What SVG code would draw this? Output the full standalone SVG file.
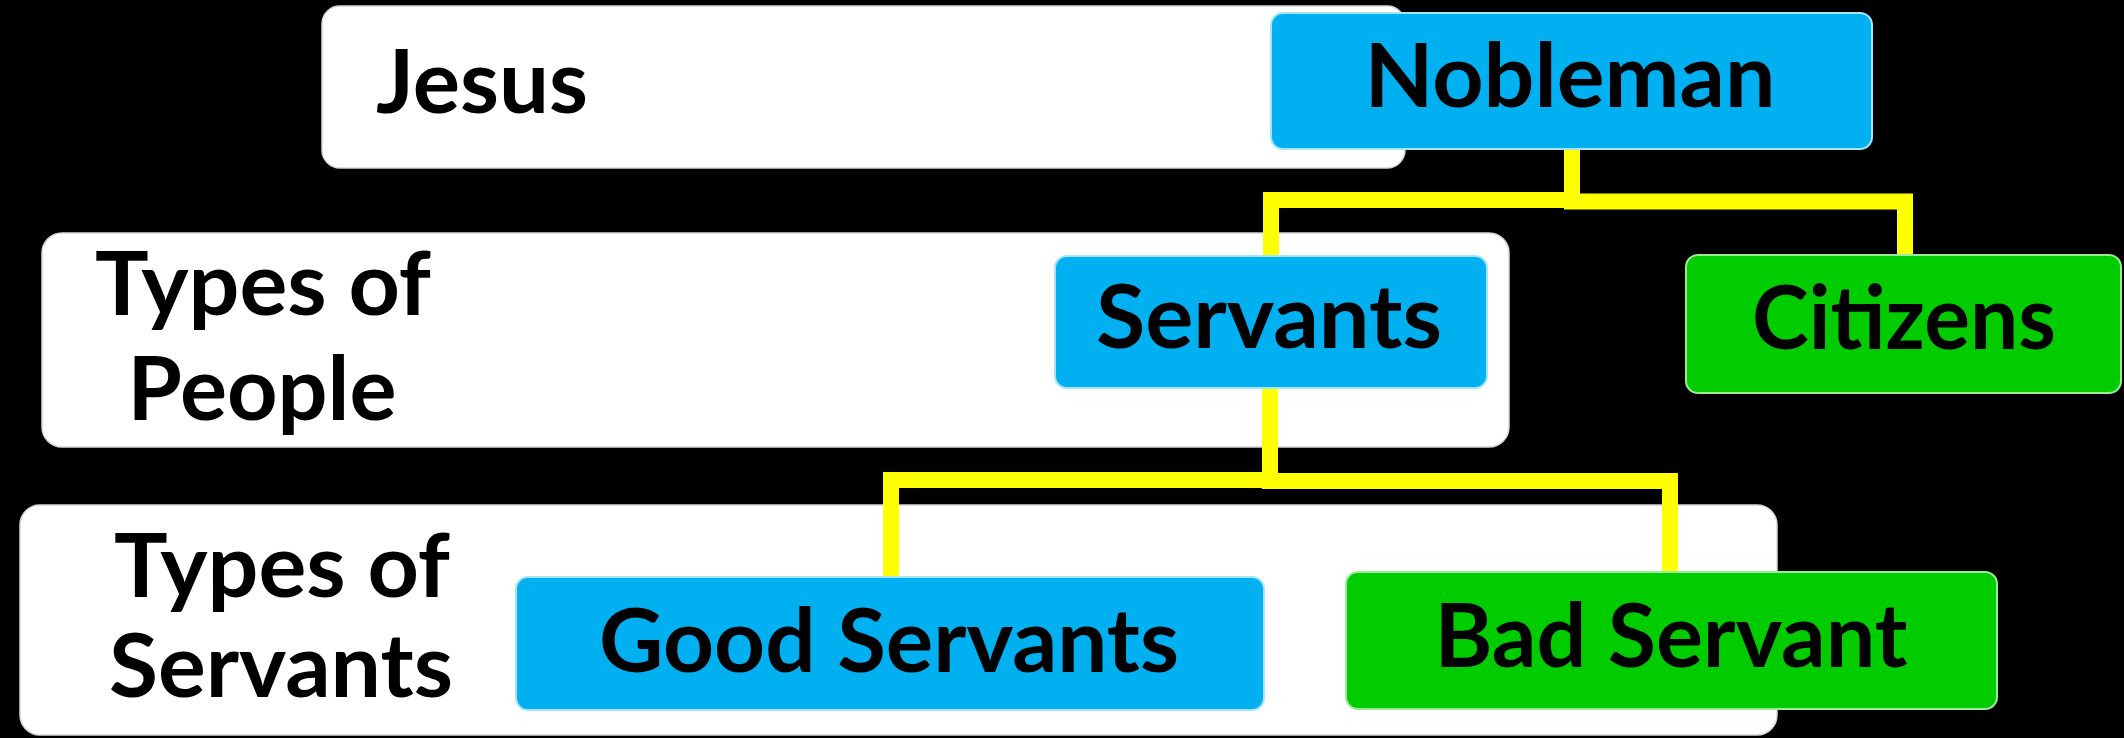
<svg xmlns="http://www.w3.org/2000/svg" width="2124" height="738" viewBox="0 0 2124 738">
<style>
.band{fill:#FFFFFF;stroke:#D8D8D8;stroke-width:1.5}
.blue{fill:#00B0F0;stroke:#A8E4F8;stroke-width:2}
.green{fill:#00CC00;stroke:#9CEB9C;stroke-width:2}
.lbl{font-family:Lato,"Open Sans","Liberation Sans",sans-serif;font-weight:700;font-size:88px;fill:#000000;text-anchor:middle}
.conn{fill:none;stroke:#FFFF00;stroke-width:16;stroke-linejoin:miter;stroke-linecap:butt}
</style>
<rect x="0" y="0" width="2124" height="738" fill="#000000"/>
<g id="band-jesus">
<rect class="band" x="322" y="6" width="1083" height="162" rx="18"/>
<text class="lbl" x="482" y="113" textLength="212" lengthAdjust="spacingAndGlyphs">Jesus</text>
</g>
<g id="band-people">
<rect class="band" x="42" y="233" width="1467" height="214" rx="20"/>
<text class="lbl" x="263" y="315" textLength="336" lengthAdjust="spacingAndGlyphs">Types of</text>
<text class="lbl" x="262" y="420" textLength="269" lengthAdjust="spacingAndGlyphs">People</text>
</g>
<g id="band-servants">
<rect class="band" x="20" y="505" width="1757" height="230" rx="20"/>
<text class="lbl" x="282" y="597" textLength="336" lengthAdjust="spacingAndGlyphs">Types of</text>
<text class="lbl" x="281" y="697" textLength="344" lengthAdjust="spacingAndGlyphs">Servants</text>
</g>
<g id="connectors">
<path class="conn" d="M1572 150 V200 H1271 V256"/>
<path class="conn" d="M1572 150 V201.5 H1905 V255"/>
<path class="conn" d="M1270 388 V480 H891 V577"/>
<path class="conn" d="M1270 388 V481 H1670 V572"/>
</g>
<g id="node-nobleman">
<rect class="blue" x="1271" y="13" width="601" height="136" rx="12"/>
<text class="lbl" x="1570" y="107" textLength="411" lengthAdjust="spacingAndGlyphs">Nobleman</text>
</g>
<g id="node-servants">
<rect class="blue" x="1055" y="256" width="432" height="132" rx="12"/>
<text class="lbl" x="1269" y="348" textLength="346" lengthAdjust="spacingAndGlyphs">Servants</text>
</g>
<g id="node-citizens">
<rect class="green" x="1686" y="255" width="435" height="138" rx="12"/>
<text class="lbl" x="1904" y="349" textLength="304" lengthAdjust="spacingAndGlyphs">Citizens</text>
</g>
<g id="node-good-servants">
<rect class="blue" x="516" y="577" width="748" height="133" rx="12"/>
<text class="lbl" x="889" y="672" textLength="580" lengthAdjust="spacingAndGlyphs">Good Servants</text>
</g>
<g id="node-bad-servant">
<rect class="green" x="1346" y="572" width="651" height="137" rx="12"/>
<text class="lbl" x="1671" y="667" textLength="473" lengthAdjust="spacingAndGlyphs">Bad Servant</text>
</g>
</svg>
